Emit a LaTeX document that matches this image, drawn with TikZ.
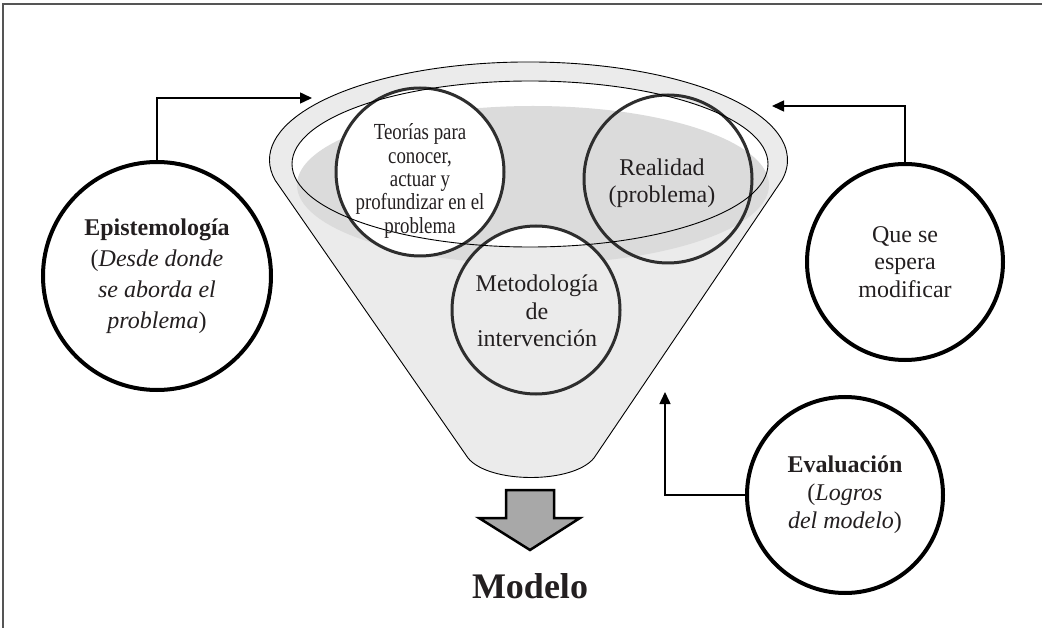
\documentclass[tikz,border=0pt]{standalone}
\usepackage{fontspec}
\setmainfont{Liberation Serif}
\newfontfamily\narrowserif[FakeStretch=0.82]{Liberation Serif}
\usetikzlibrary{arrows.meta}
\definecolor{funnelgray}{HTML}{EBEBEB}
\definecolor{wellgray}{HTML}{DBDBDB}
\definecolor{ringstroke}{HTML}{2E2E2E}
\definecolor{blockgray}{HTML}{A8A8A8}
\definecolor{inkcol}{HTML}{231F20}
\definecolor{framecol}{HTML}{555555}

\begin{document}
\begin{tikzpicture}[x=1pt,y=-1pt,
  outer/.style={circle, draw=black, line width=4pt, fill=white, minimum size=#1,
                inner sep=0pt, align=center, text=inkcol},
  ring/.style={circle, draw=ringstroke, line width=3pt, minimum size=#1, inner sep=0pt},
  txt/.style={align=center, text=inkcol, inner sep=0pt},
  link/.style={draw=black, line width=1.5pt, -{Triangle[length=12pt,width=11pt]}},
]
\useasboundingbox (0,0) rectangle (1042,628);

% frame
\draw[draw=framecol, line width=1.5pt] (3,628) -- (3,4) -- (1042,4);

% funnel body with its rim
\filldraw[fill=funnelgray, draw=black, line width=0.9pt]
  (468,458) -- (275,180)
  arc[start angle=168.2, end angle=371.8, x radius=259, y radius=98]
  -- (594,458) .. controls (573,484) and (489,484) .. (468,458) -- cycle;

% mouth of the funnel
\fill[white] (530,164) ellipse[x radius=238, y radius=83];
\fill[wellgray] (533,185) ellipse[x radius=236, y radius=79];

% circles inside the funnel
\node[ring=168, fill=white] (teo) at (420,172) {};
\fill[funnelgray] (536,310) circle[radius=84];
\begin{scope}
  \clip (536,310) circle[radius=84];
  \fill[white] (530,164) ellipse[x radius=238, y radius=83];
\end{scope}
\node[ring=168] (met) at (536,310) {};
\node[ring=168] (rea) at (668,179) {};

% inner rim line
\draw[line width=0.9pt] (530,164) ellipse[x radius=238, y radius=83];

% texts inside the funnel
\node[txt, font=\narrowserif\fontsize{23}{23.3}\selectfont] (teotext) at (420,181)
  {Teorías para\\conocer,\\actuar y\\profundizar en el\\problema};
\node[txt, font=\fontsize{24}{27}\selectfont] (reatext) at (662,183)
  {Realidad\\(problema)};
\node[txt, font=\fontsize{24}{27.5}\selectfont] (mettext) at (537,311)
  {Metodología\\de\\intervención};

% outer circles
\node[outer=228, font=\fontsize{24}{31}\selectfont] (epi) at (157,276)
  {\textbf{Epistemología}\\(\textit{Desde donde}\\\textit{se aborda el}\\\textit{problema})};
\node[outer=196, font=\fontsize{24}{27.5}\selectfont] (que) at (905,262)
  {Que se\\espera\\modificar};
\node[outer=196, font=\fontsize{24}{28}\selectfont] (eva) at (845,495)
  {\textbf{Evaluación}\\(\textit{Logros}\\\textit{del modelo})};

% connectors
\coordinate (epitip) at (312,98);
\coordinate (quetip) at (772,106);
\coordinate (evatip) at (665,392);
\draw[link] (epi.north) |- (epitip);
\draw[link] (que.north) |- (quetip);
\draw[link] (eva.west) -| (evatip);

% output arrow and result
\filldraw[fill=blockgray, draw=black, line width=2.5pt, line join=miter]
  (506,490) -- (554,490) -- (554,518) -- (580,518) -- (530,550)
  -- (479,518) -- (506,518) -- cycle;
\node[txt, font=\bfseries\fontsize{36}{36}\selectfont, anchor=base] (modelo) at (530,598) {Modelo};
\end{tikzpicture}
\end{document}
